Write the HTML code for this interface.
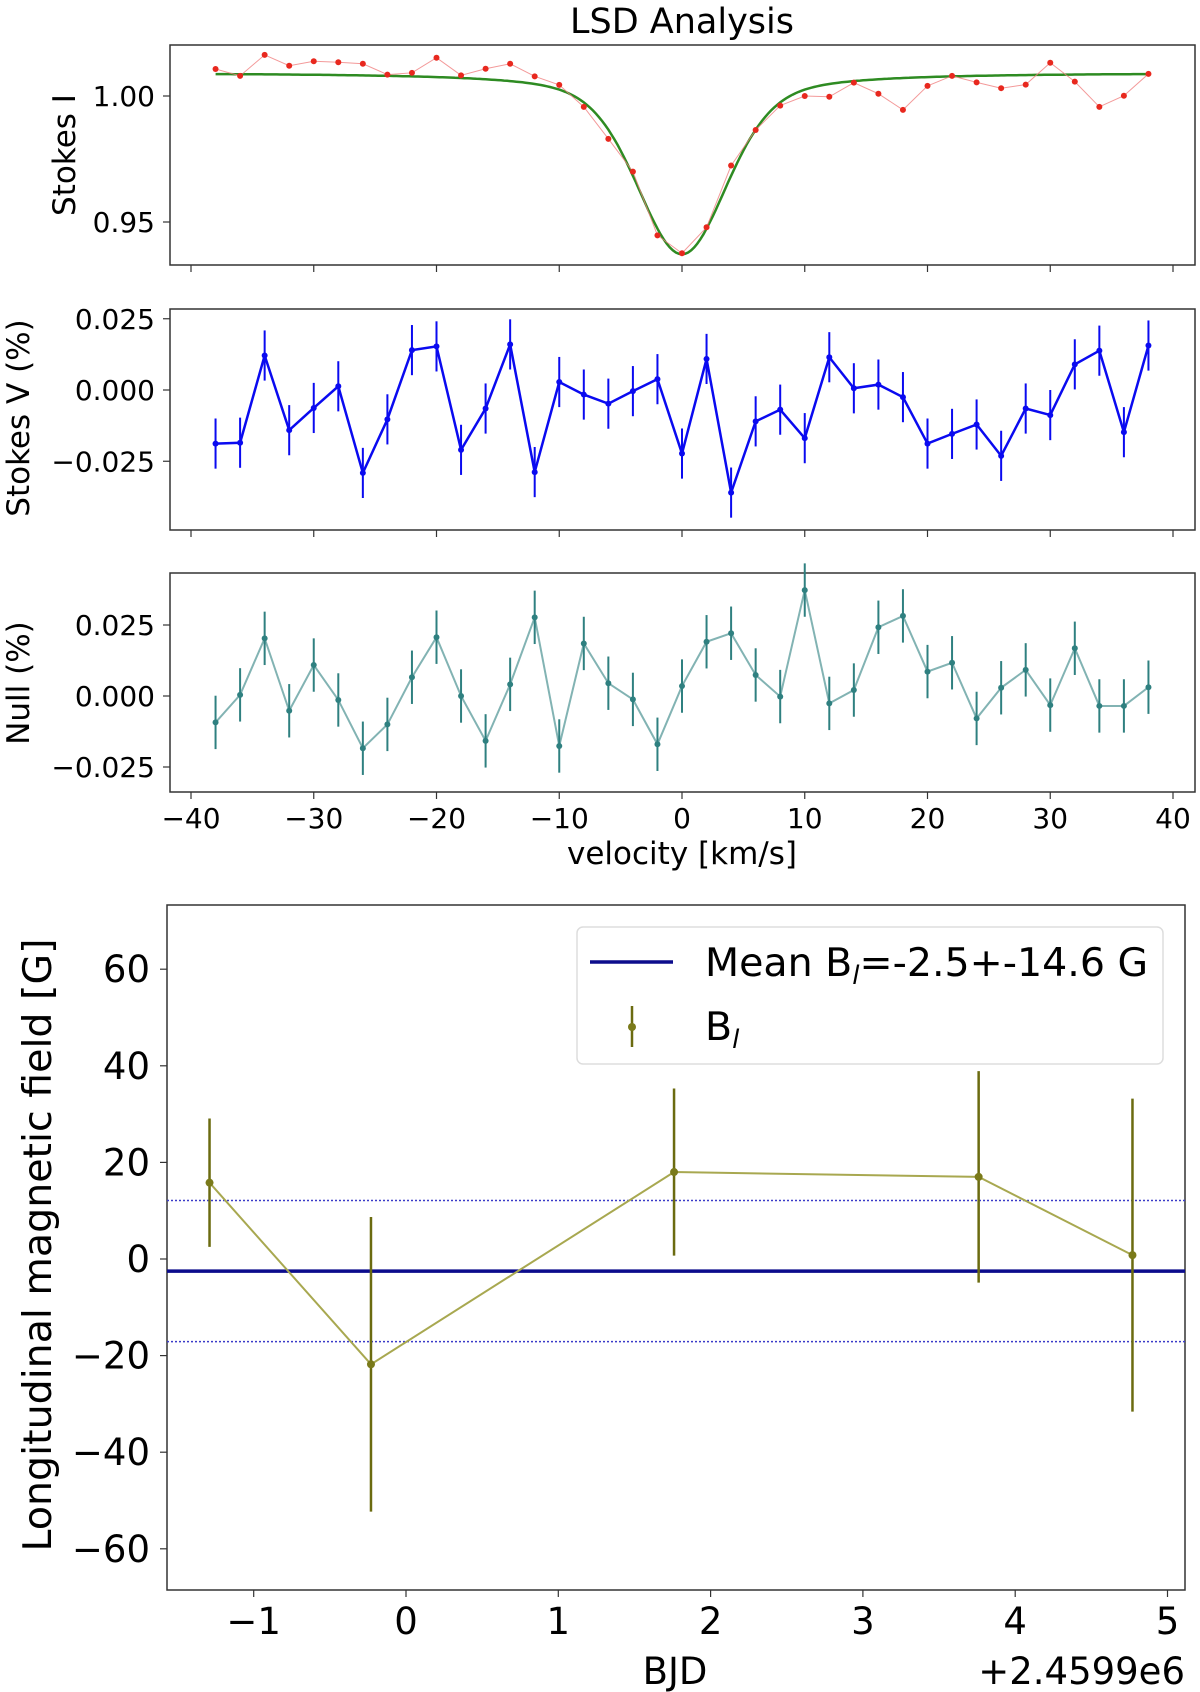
<!DOCTYPE html>
<html><head><meta charset="utf-8">
<style>
html,body{margin:0;padding:0;background:#fff;}
svg{display:block;font-family:"DejaVu Sans","Liberation Sans",sans-serif;}
</style></head>
<body>
<svg id="fig" width="1200" height="1692" viewBox="0 0 1200 1692" xmlns="http://www.w3.org/2000/svg">
<text x="682" y="33" font-size="35" text-anchor="middle">LSD Analysis</text>
<g id="g1"></g>
<g id="g2"></g>
<g id="g3"></g>
<g id="g4"></g>
</svg>
<script>
const velocities = [-38,-36,-34,-32,-30,-28,-26,-24,-22,-20,-18,-16,-14,-12,-10,-8,-6,-4,-2,0,2,4,6,8,10,12,14,16,18,20,22,24,26,28,30,32,34,36,38];
const stokesI = [1.0107,1.008,1.0163,1.012,1.0138,1.0134,1.0128,1.0085,1.0092,1.0152,1.0082,1.0108,1.0128,1.0078,1.0044,0.9957,0.983,0.970,0.9447,0.9376,0.9479,0.9724,0.9865,0.9962,1.000,0.9997,1.0053,1.0009,0.9945,1.004,1.008,1.0054,1.0031,1.0045,1.0132,1.0057,0.9957,1.0001,1.0088];
const stokesV = [-0.0188,-0.0185,0.0121,-0.0141,-0.0063,0.0013,-0.0291,-0.0103,0.014,0.0153,-0.021,-0.0065,0.016,-0.0288,0.0028,-0.0016,-0.0048,-0.0004,0.0038,-0.0223,0.0109,-0.036,-0.011,-0.0069,-0.0169,0.0115,0.0006,0.0019,-0.0025,-0.0188,-0.0154,-0.0121,-0.0231,-0.0065,-0.0088,0.009,0.0138,-0.0148,0.0156];
const stokesVErr = 0.0088;
const nullVals = [-0.0093,0.0004,0.0203,-0.0052,0.0109,-0.0014,-0.0184,-0.01,0.0066,0.0207,0,-0.0158,0.0041,0.0277,-0.0176,0.0185,0.0045,-0.0012,-0.017,0.0035,0.0191,0.0221,0.0074,-0.0002,0.0373,-0.0026,0.0021,0.0242,0.0282,0.0086,0.0117,-0.0079,0.0029,0.0092,-0.0032,0.0168,-0.0035,-0.0035,0.0031];
const nullErr = 0.0094;
const velTicks = [-40,-30,-20,-10,0,10,20,30,40];
const iTicks = [1.00,0.95];
const iTickLabels = ["1.00","0.95"];
const vTicks = [0.025,0,-0.025];
const vTickLabels = ["0.025","0.000","\u22120.025"];
const bjd = [-1.29,-0.23,1.76,3.76,4.77];
const bl = [15.8,-21.8,18,17,0.8];
const blErr = [13.3,30.5,17.3,21.9,32.4];
const meanB = -2.5;
const sigmaB = 14.6;
const bjdTicks = [-1,0,1,2,3,4,5];
const bTicks = [60,40,20,0,-20,-40,-60];

const NS="http://www.w3.org/2000/svg";
function mk(parent,tag,attrs,txt){const e=document.createElementNS(NS,tag);for(const k in attrs)e.setAttribute(k,attrs[k]);if(txt!==undefined)e.textContent=txt;parent.appendChild(e);return e;}
const fmtNum=t=>String(t).replace('-','\u2212');

const vx = v => 191 + (v+40)*(1173-191)/80;
const L=170,R=1195;

// Panel 1
const g1=document.getElementById('g1');
const y1 = v => 96 + (1.00-v)*2520;
let f=mk(g1,'rect',{x:L,y:45,width:R-L,height:220,fill:'none',stroke:'#333','stroke-width':1.5});

let pts=[];
for(let v=-38;v<=38.001;v+=0.25){
 const prof=0.072*(0.6*Math.exp(-v*v/(2*3.6*3.6))+0.4*(25/(25+v*v)));
 pts.push(vx(v).toFixed(1)+','+y1(1.0092-prof).toFixed(1));
}
let fit=mk(g1,'polyline',{points:pts.join(' '),fill:'none',stroke:'#2e8b22','stroke-width':2.5});

let li=mk(g1,'polyline',{points:velocities.map((v,i)=>vx(v)+','+y1(stokesI[i])).join(' '),fill:'none',stroke:'#f08080','stroke-width':1,'stroke-opacity':0.8});

velocities.forEach((v,i)=>{const c=mk(g1,'circle',{cx:vx(v),cy:y1(stokesI[i]),r:3,fill:'#e8281e'});
});
iTicks.forEach((t,i)=>{mk(g1,'line',{x1:L-7,x2:L,y1:y1(t),y2:y1(t),stroke:'#333','stroke-width':1.2});
const tl=mk(g1,'text',{x:155,y:y1(t)+10,'font-size':28,'text-anchor':'end'},iTickLabels[i]);
});
velTicks.forEach(t=>mk(g1,'line',{x1:vx(t),x2:vx(t),y1:265,y2:272,stroke:'#333','stroke-width':1.2}));
let yl1=mk(g1,'text',{x:0,y:0,'font-size':31,'text-anchor':'middle',transform:'translate(75,155) rotate(-90)'},'Stokes I');


function errPanel(g,top,bot,zeroY,scale,vals,err,color,lw,mr,lineOp,name,title,tx,ty){
 const y=v=>zeroY-v*scale;
 const fr=mk(g,'rect',{x:L,y:top,width:R-L,height:bot-top,fill:'none',stroke:'#333','stroke-width':1.5});
 
 const pl=mk(g,'polyline',{points:velocities.map((v,i)=>vx(v)+','+y(vals[i])).join(' '),fill:'none',stroke:color,'stroke-width':lw,'stroke-opacity':lineOp});
 
 velocities.forEach((v,i)=>{
  const eb=mk(g,'line',{x1:vx(v),x2:vx(v),y1:y(vals[i]-err),y2:y(vals[i]+err),stroke:color,'stroke-width':2});
  
  const c=mk(g,'circle',{cx:vx(v),cy:y(vals[i]),r:mr,fill:color});
  
 });
 vTicks.forEach((t,i)=>{mk(g,'line',{x1:L-7,x2:L,y1:y(t),y2:y(t),stroke:'#333','stroke-width':1.2});
  const tl=mk(g,'text',{x:155,y:y(t)+10,'font-size':28,'text-anchor':'end'},vTickLabels[i]);
  });
 velTicks.forEach(t=>mk(g,'line',{x1:vx(t),x2:vx(t),y1:bot,y2:bot+7,stroke:'#333','stroke-width':1.2}));
 const yt=mk(g,'text',{x:0,y:0,'font-size':31,'text-anchor':'middle',transform:`translate(${tx},${ty}) rotate(-90)`},title);
 
 return y;
}
errPanel(document.getElementById('g2'),309,530,390,2850,stokesV,stokesVErr,'#0a0af0',2.5,3,1,'stokes-v','Stokes V (%)',29,418);
const g3=document.getElementById('g3');
errPanel(g3,573,792,696,2840,nullVals,nullErr,'#2f8080',2,3,0.6,'null','Null (%)',29,683);
velTicks.forEach(t=>{const tl=mk(g3,'text',{x:vx(t),y:828,'font-size':28,'text-anchor':'middle'},fmtNum(t));
});
let xl=mk(g3,'text',{x:682,y:864,'font-size':31,'text-anchor':'middle'},'velocity [km/s]');


// Bottom panel
const g4=document.getElementById('g4');
const BL=167,BR=1185,BT=905,BB=1590;
const bx=v=>406+v*152.3;
const by=v=>1259-v*4.83;
let bf=mk(g4,'rect',{x:BL,y:BT,width:BR-BL,height:BB-BT,fill:'none',stroke:'#333','stroke-width':1.5});

[meanB+sigmaB,meanB-sigmaB].forEach(v=>{const d=mk(g4,'line',{x1:BL,x2:BR,y1:by(v),y2:by(v),stroke:'#3b3bc8','stroke-width':1.5,'stroke-dasharray':'2,2'});
});
let ml=mk(g4,'line',{x1:BL,x2:BR,y1:by(meanB),y2:by(meanB),stroke:'#0c0c8c','stroke-width':3.5});

let bpl=mk(g4,'polyline',{points:bjd.map((v,i)=>bx(v)+','+by(bl[i])).join(' '),fill:'none',stroke:'#a8a850','stroke-width':2});

bjd.forEach((v,i)=>{
 const eb=mk(g4,'line',{x1:bx(v),x2:bx(v),y1:by(bl[i]-blErr[i]),y2:by(bl[i]+blErr[i]),stroke:'#6b6b10','stroke-width':2.5});
 
 const c=mk(g4,'circle',{cx:bx(v),cy:by(bl[i]),r:4,fill:'#7a7a1a'});
 
});
bTicks.forEach(t=>{mk(g4,'line',{x1:BL-7,x2:BL,y1:by(t),y2:by(t),stroke:'#333','stroke-width':1.2});
const tl=mk(g4,'text',{x:150,y:by(t)+13,'font-size':37,'text-anchor':'end'},fmtNum(t));
});
bjdTicks.forEach(t=>{mk(g4,'line',{x1:bx(t),x2:bx(t),y1:BB,y2:BB+7,stroke:'#333','stroke-width':1.2});
const tl=mk(g4,'text',{x:bx(t),y:1634,'font-size':37,'text-anchor':'middle'},fmtNum(t));
});
let bxl=mk(g4,'text',{x:675,y:1684,'font-size':37,'text-anchor':'middle'},'BJD');

let off=mk(g4,'text',{x:1185,y:1684,'font-size':37,'text-anchor':'end'},'+2.4599e6');

let byl=mk(g4,'text',{x:0,y:0,'font-size':39.5,'text-anchor':'middle',transform:'translate(51,1245) rotate(-90)'},'Longitudinal magnetic field [G]');

let lg=mk(g4,'rect',{x:577,y:927,width:586,height:137,rx:6,fill:'#fff',stroke:'#ddd','stroke-width':1.5});

let l1=mk(g4,'line',{x1:590,x2:673,y1:962,y2:962,stroke:'#0c0c8c','stroke-width':3.5});

let t1=mk(g4,'text',{x:705,y:976,'font-size':39.5});

t1.innerHTML='Mean B<tspan font-size="26" dy="8" font-style="italic">l</tspan><tspan dy="-8">=-2.5+-14.6 G</tspan>';
let l2=mk(g4,'line',{x1:632,x2:632,y1:1006,y2:1047,stroke:'#6b6b10','stroke-width':2.5});

mk(g4,'circle',{cx:632,cy:1027,r:4,fill:'#7a7a1a'});
let t2=mk(g4,'text',{x:705,y:1040,'font-size':39.5});

t2.innerHTML='B<tspan font-size="26" dy="8" font-style="italic">l</tspan>';
</script>
</body></html>
